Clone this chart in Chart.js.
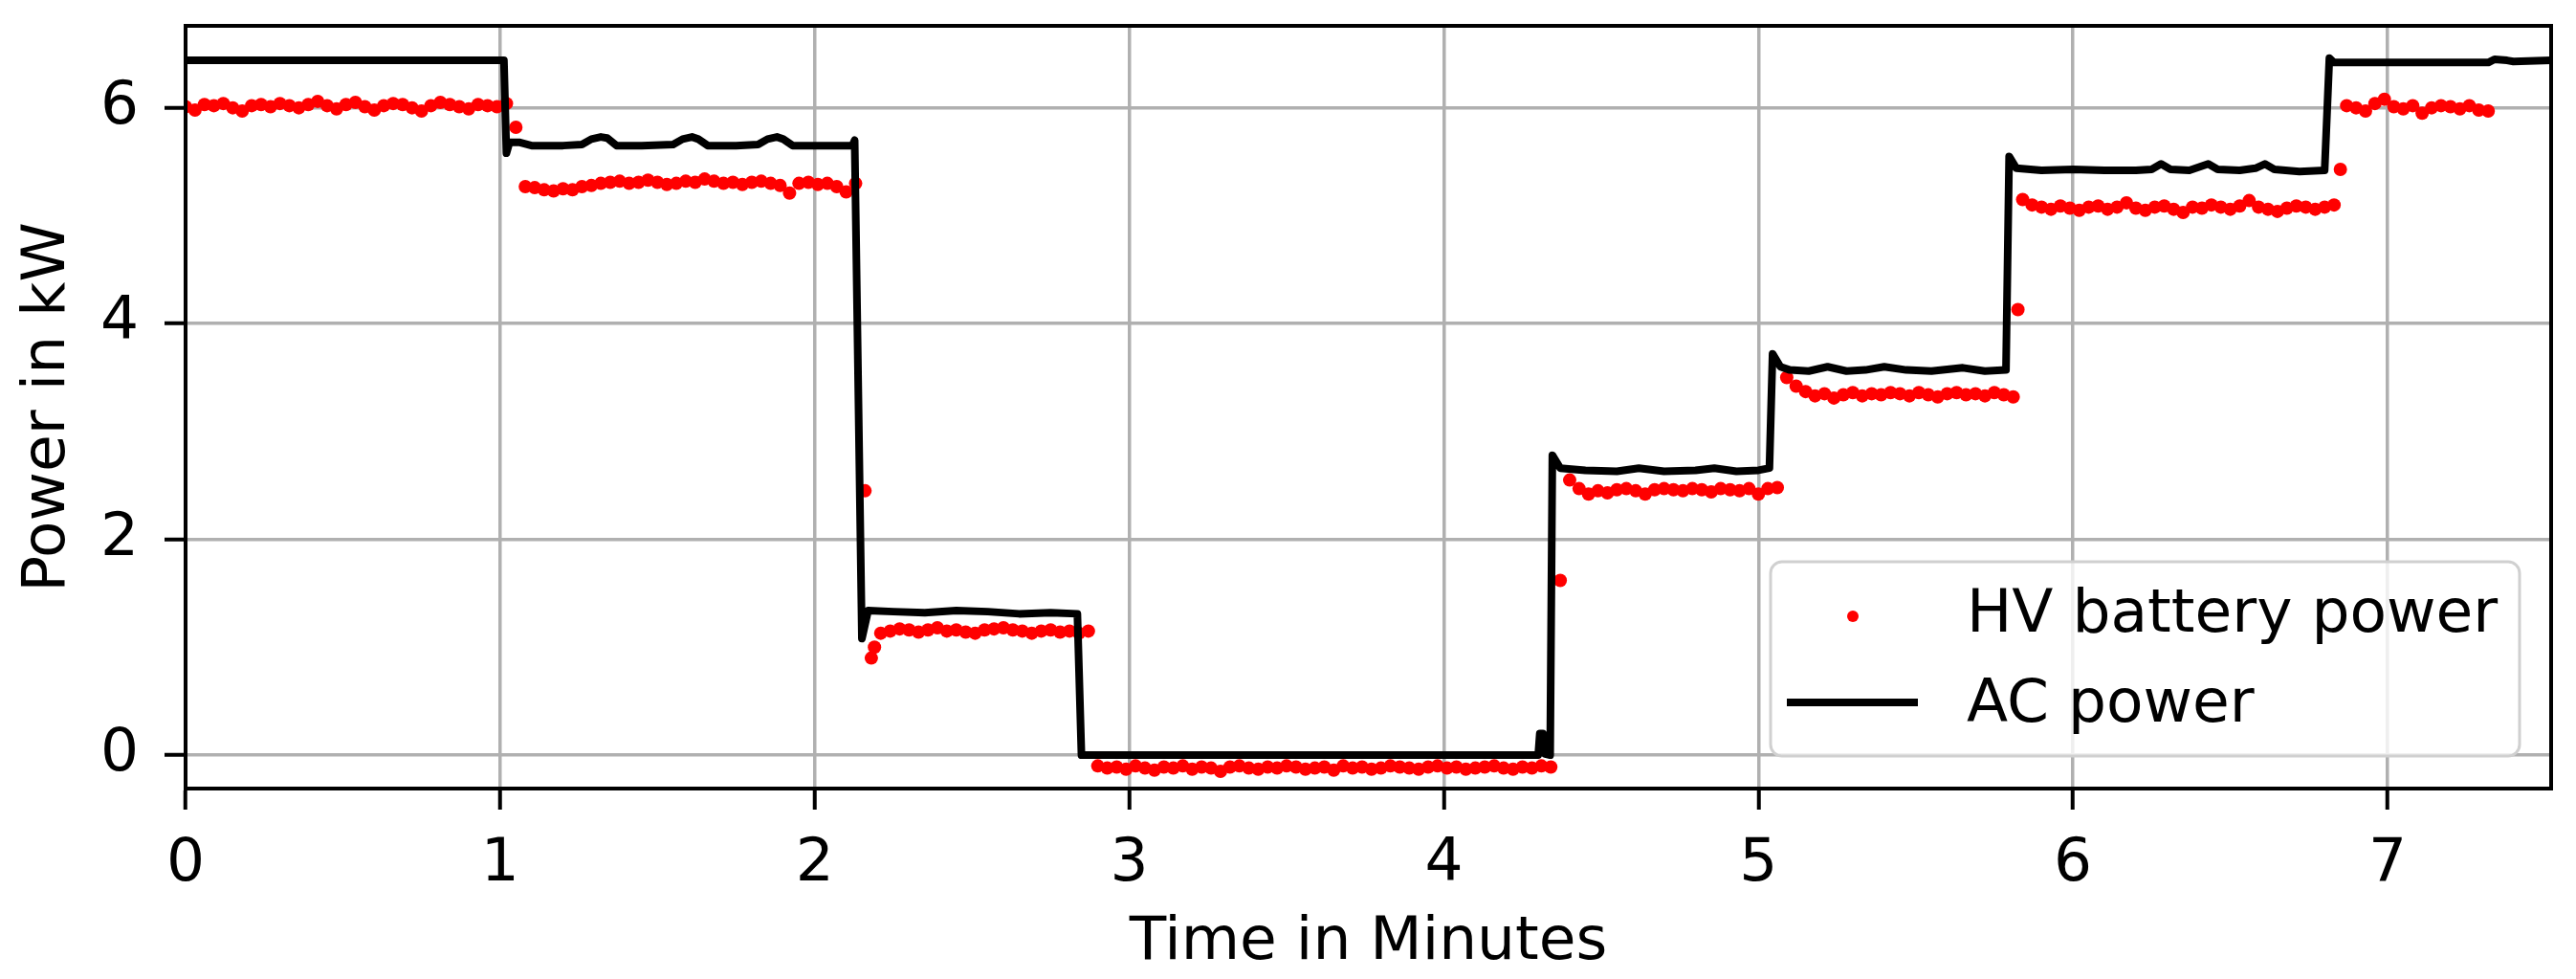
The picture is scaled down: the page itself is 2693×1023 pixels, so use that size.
<!DOCTYPE html>
<html>
<head>
<meta charset="utf-8">
<title>HV battery power and AC power</title>
<script src="https://cdn.jsdelivr.net/npm/chart.js@4"></script>
<style>
  html, body { margin: 0; padding: 0; background: #fff; }
</style>
</head>
<body>
<canvas id="powerChart" width="2693" height="1023"></canvas>
<script>
// --- data (time in minutes, power in kW) ---

const batteryTime = [
  0.00, 0.03, 0.06, 0.09, 0.12, 0.15, 0.18, 0.21, 0.24, 0.27, 0.30, 0.33, 0.36, 0.39, 0.42, 0.45, 0.48, 0.51,
  0.54, 0.57, 0.60, 0.63, 0.66, 0.69, 0.72, 0.75, 0.78, 0.81, 0.84, 0.87, 0.90, 0.93, 0.96, 0.99, 1.02,
  1.05,
  1.08, 1.11, 1.14, 1.17, 1.20, 1.23, 1.26, 1.29, 1.32, 1.35, 1.38, 1.41, 1.44, 1.47, 1.50, 1.53, 1.56, 1.59,
  1.62, 1.65, 1.68, 1.71, 1.74, 1.77, 1.80, 1.83, 1.86, 1.89, 1.92, 1.95, 1.98, 2.01, 2.04, 2.07, 2.10, 2.13,
  2.16, 2.18, 2.19,
  2.21, 2.24, 2.27, 2.30, 2.33, 2.36, 2.39, 2.42, 2.45, 2.48, 2.51, 2.54, 2.57, 2.60, 2.63, 2.66, 2.69, 2.72,
  2.75, 2.78, 2.81, 2.84, 2.87,
  2.90, 2.93, 2.96, 2.99, 3.02, 3.05, 3.08, 3.11, 3.14, 3.17, 3.20, 3.23, 3.26, 3.29, 3.32, 3.35, 3.38, 3.41,
  3.44, 3.47, 3.50, 3.53, 3.56, 3.59, 3.62, 3.65, 3.68, 3.71, 3.74, 3.77, 3.80, 3.83, 3.86, 3.89, 3.92, 3.95,
  3.98, 4.01, 4.04, 4.07, 4.10, 4.13, 4.16, 4.19, 4.22, 4.25, 4.28, 4.31, 4.34,
  4.37,
  4.40, 4.43, 4.46, 4.49, 4.52, 4.55, 4.58, 4.61, 4.64, 4.67, 4.70, 4.73, 4.76, 4.79, 4.82, 4.85, 4.88, 4.91,
  4.94, 4.97, 5.00, 5.03, 5.06,
  5.09, 5.12, 5.15, 5.18, 5.21, 5.24, 5.27, 5.30, 5.33, 5.36, 5.39, 5.42, 5.45, 5.48, 5.51, 5.54, 5.57, 5.60,
  5.63, 5.66, 5.69, 5.72, 5.75, 5.78, 5.81,
  5.825,
  5.84, 5.87, 5.90, 5.93, 5.96, 5.99, 6.02, 6.05, 6.08, 6.11, 6.14, 6.17, 6.20, 6.23, 6.26, 6.29, 6.32, 6.35,
  6.38, 6.41, 6.44, 6.47, 6.50, 6.53, 6.56, 6.59, 6.62, 6.65, 6.68, 6.71, 6.74, 6.77, 6.80, 6.83,
  6.85,
  6.87, 6.90, 6.93, 6.96, 6.99, 7.02, 7.05, 7.08, 7.11, 7.14, 7.17, 7.20, 7.23, 7.26, 7.29, 7.32
];

const batteryPower = [
  6.01, 5.98, 6.03, 6.02, 6.04, 6.00, 5.97, 6.02, 6.03, 6.01, 6.04, 6.02, 6.00, 6.03, 6.06, 6.02, 5.99, 6.03,
  6.05, 6.01, 5.98, 6.02, 6.04, 6.03, 6.00, 5.97, 6.02, 6.05, 6.03, 6.01, 5.99, 6.03, 6.02, 6.01, 6.04,
  5.82,
  5.27, 5.26, 5.24, 5.23, 5.25, 5.24, 5.27, 5.28, 5.30, 5.31, 5.32, 5.30, 5.31, 5.33, 5.31, 5.29, 5.30, 5.32,
  5.31, 5.34, 5.32, 5.30, 5.31, 5.29, 5.31, 5.32, 5.30, 5.28, 5.21, 5.30, 5.31, 5.29, 5.30, 5.27, 5.22, 5.30,
  2.45, 0.90, 1.00,
  1.13, 1.15, 1.17, 1.16, 1.14, 1.16, 1.18, 1.15, 1.16, 1.14, 1.13, 1.16, 1.17, 1.18, 1.16, 1.15, 1.13, 1.15,
  1.16, 1.14, 1.15, 1.13, 1.15,
  -0.10, -0.12, -0.11, -0.13, -0.10, -0.12, -0.14, -0.11, -0.12, -0.10, -0.13, -0.11, -0.12, -0.15, -0.11, -0.10, -0.12, -0.13,
  -0.11, -0.12, -0.10, -0.11, -0.13, -0.12, -0.11, -0.14, -0.10, -0.12, -0.11, -0.13, -0.12, -0.10, -0.11, -0.12, -0.13, -0.11,
  -0.10, -0.12, -0.11, -0.13, -0.12, -0.11, -0.10, -0.12, -0.13, -0.11, -0.12, -0.10, -0.11,
  1.62,
  2.55, 2.47, 2.42, 2.45, 2.43, 2.46, 2.47, 2.45, 2.42, 2.46, 2.47, 2.46, 2.45, 2.47, 2.46, 2.44, 2.47, 2.46,
  2.45, 2.47, 2.42, 2.47, 2.48,
  3.50, 3.42, 3.37, 3.33, 3.35, 3.31, 3.34, 3.36, 3.33, 3.35, 3.34, 3.36, 3.35, 3.33, 3.36, 3.34, 3.32, 3.35,
  3.36, 3.34, 3.35, 3.33, 3.36, 3.34, 3.32,
  4.13,
  5.15, 5.10, 5.08, 5.06, 5.09, 5.07, 5.05, 5.08, 5.09, 5.06, 5.08, 5.12, 5.07, 5.05, 5.08, 5.09, 5.06, 5.03,
  5.08, 5.07, 5.10, 5.08, 5.06, 5.09, 5.14, 5.08, 5.06, 5.04, 5.07, 5.09, 5.08, 5.06, 5.08, 5.10,
  5.43,
  6.02, 6.00, 5.97, 6.04, 6.08, 6.01, 5.99, 6.02, 5.95, 6.00, 6.02, 6.01, 5.99, 6.02, 5.98, 5.97
];

const acTime = [
  0.00, 1.012, 1.02, 1.03, 1.06, 1.10, 1.20, 1.26, 1.29, 1.32,
  1.34, 1.37, 1.45, 1.55, 1.58, 1.61, 1.63, 1.66, 1.75, 1.82,
  1.85, 1.88, 1.90, 1.93, 2.02, 2.12, 2.127, 2.150, 2.17, 2.25,
  2.35, 2.45, 2.55, 2.65, 2.75, 2.835, 2.848, 3.20, 3.60, 4.00,
  4.30, 4.305, 4.315, 4.322, 4.338, 4.345, 4.37, 4.45, 4.55, 4.62,
  4.70, 4.80, 4.86, 4.93, 5.00, 5.035, 5.045, 5.07, 5.10, 5.16,
  5.22, 5.28, 5.34, 5.40, 5.47, 5.55, 5.65, 5.72, 5.787, 5.797,
  5.82, 5.90, 6.00, 6.10, 6.20, 6.25, 6.28, 6.31, 6.37, 6.43,
  6.46, 6.53, 6.58, 6.61, 6.64, 6.72, 6.80, 6.815, 6.83, 7.00,
  7.20, 7.32, 7.34, 7.38, 7.40, 7.52
];

const acPower = [
  6.44, 6.44, 5.58, 5.68, 5.68, 5.65, 5.65, 5.66, 5.71, 5.73,
  5.72, 5.65, 5.65, 5.66, 5.71, 5.73, 5.71, 5.65, 5.65, 5.66,
  5.71, 5.73, 5.71, 5.65, 5.65, 5.65, 5.70, 1.08, 1.34, 1.33,
  1.32, 1.34, 1.33, 1.31, 1.32, 1.31, 0.00, 0.00, 0.00, 0.00,
  0.00, 0.20, 0.20, 0.01, 0.00, 2.78, 2.66, 2.64, 2.63, 2.66,
  2.63, 2.64, 2.66, 2.63, 2.64, 2.66, 3.72, 3.60, 3.57, 3.56,
  3.60, 3.56, 3.57, 3.60, 3.57, 3.56, 3.59, 3.56, 3.57, 5.55,
  5.44, 5.42, 5.43, 5.42, 5.42, 5.43, 5.48, 5.43, 5.42, 5.48,
  5.43, 5.42, 5.44, 5.48, 5.43, 5.41, 5.42, 6.46, 6.42, 6.42,
  6.42, 6.42, 6.45, 6.44, 6.43, 6.44
];

const xTicks = [0, 1, 2, 3, 4, 5, 6, 7];
const yTicks = [0, 2, 4, 6];
const seriesLabels = ['HV battery power', 'AC power'];

// --- chart ---

const FONT = 'DejaVu Sans';
const tickFont = { family: FONT, size: 63 };

// top + right spines (Chart.js only draws the axis lines)
const frame = {
    id: 'frame',
    afterDatasetsDraw(chart) {
        const { ctx, chartArea: a } = chart;
        ctx.save();
        ctx.strokeStyle = '#000';
        ctx.lineWidth = 4;
        ctx.strokeRect(a.left, a.top, a.right - a.left, a.bottom - a.top);
        ctx.restore();
    }
};

// matplotlib-style legend box in the lower right
const boxLegend = {
    id: 'boxLegend',
    afterDraw(chart) {
        const { ctx, chartArea: a } = chart;
        const w = 783, h = 203;
        const left = a.right - 33 - w;
        const top = a.bottom - 34 - h;

        ctx.save();
        ctx.beginPath();
        ctx.roundRect(left, top, w, h, 12);
        ctx.fillStyle = 'rgba(255,255,255,0.8)';
        ctx.fill();
        ctx.lineWidth = 3;
        ctx.strokeStyle = '#d0d0d0';
        ctx.stroke();

        // red marker
        ctx.beginPath();
        ctx.arc(left + 86, top + 57, 6, 0, Math.PI * 2);
        ctx.fillStyle = '#ff0000';
        ctx.fill();

        // black line
        ctx.beginPath();
        ctx.moveTo(left + 17, top + 147);
        ctx.lineTo(left + 154, top + 147);
        ctx.lineWidth = 8;
        ctx.strokeStyle = '#000';
        ctx.stroke();

        ctx.fillStyle = '#000';
        ctx.font = '63px "' + FONT + '"';
        ctx.textAlign = 'left';
        ctx.textBaseline = 'middle';
        ctx.fillText(seriesLabels[0], left + 205, top + 57);
        ctx.fillText(seriesLabels[1], left + 205, top + 151);
        ctx.restore();
    }
};

const ctx = document.getElementById('powerChart').getContext('2d');
new Chart(ctx, {
    type: 'scatter',
    data: {
        datasets: [
            {
                label: seriesLabels[1],
                data: acTime.map((t, i) => ({ x: t, y: acPower[i] })),
                showLine: true,
                borderColor: '#000',
                borderWidth: 8,
                borderJoinStyle: 'round',
                pointRadius: 0,
                tension: 0,
                order: 0
            },
            {
                label: seriesLabels[0],
                data: batteryTime.map((t, i) => ({ x: t, y: batteryPower[i] })),
                showLine: false,
                pointRadius: 7,
                pointBackgroundColor: '#ff0000',
                pointBorderWidth: 0,
                order: 1
            }
        ]
    },
    options: {
        responsive: false,
        animation: false,
        devicePixelRatio: 1,
        layout: { padding: { top: 27, right: 26, left: 0, bottom: 0 } },
        plugins: {
            legend: { display: false },
            tooltip: { enabled: false }
        },
        scales: {
            x: {
                type: 'linear',
                min: 0,
                max: 7.52,
                afterBuildTicks: s => { s.ticks = xTicks.map(v => ({ value: v })); },
                afterFit: s => { s.height = 199; s.paddingLeft = 0; s.paddingRight = 0; },
                ticks: { font: tickFont, color: '#000', padding: 20, maxRotation: 0, autoSkip: false },
                grid: { color: '#b0b0b0', lineWidth: 3.5, tickColor: '#000', tickLength: 22, tickWidth: 4 },
                border: { color: '#000', width: 4 },
                title: {
                    display: true,
                    text: 'Time in Minutes',
                    font: tickFont,
                    color: '#000',
                    padding: { top: 0, bottom: 0 }
                }
            },
            y: {
                type: 'linear',
                min: -0.31,
                max: 6.76,
                afterBuildTicks: s => { s.ticks = yTicks.map(v => ({ value: v })); },
                afterFit: s => { s.width = 194; s.paddingTop = 0; s.paddingBottom = 0; },
                ticks: { font: tickFont, color: '#000', padding: 27 },
                grid: { color: '#b0b0b0', lineWidth: 3.5, tickColor: '#000', tickLength: 22, tickWidth: 4 },
                border: { color: '#000', width: 4 },
                title: {
                    display: true,
                    text: 'Power in kW',
                    font: tickFont,
                    color: '#000',
                    padding: { top: 13, bottom: 0 }
                }
            }
        }
    },
    plugins: [frame, boxLegend]
});
</script>
</body>
</html>
